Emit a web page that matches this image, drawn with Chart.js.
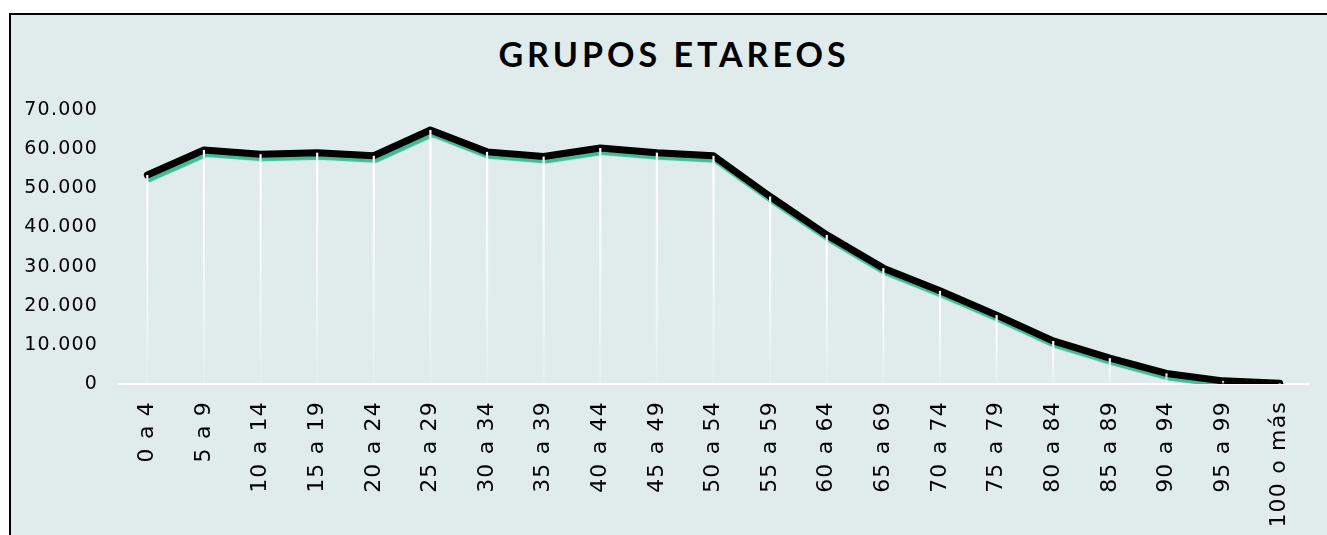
<!DOCTYPE html>
<html lang="es">
<head>
<meta charset="utf-8">
<title>Grupos etareos</title>
<script src="https://cdn.jsdelivr.net/npm/chart.js@4.4.1/dist/chart.umd.min.js"></script>
<style>
  html, body { margin: 0; padding: 0; background: #fff; overflow: hidden; }
  body { width: 1327px; height: 535px; position: relative; }
  .frame { position: absolute; left: 9px; top: 13px; width: 1400px; height: 600px;
           border-left: 2px solid #000; border-top: 2px solid #000; background: #e0ecec; }
  .ttl { position: absolute; left: 0; top: 37px; width: 1348px; text-align: center;
         font: 700 34px Lato, sans-serif; line-height: 34px; letter-spacing: 4px; color: #000; }
  #chart-grupos { position: absolute; left: 0; top: 0; }
</style>
</head>
<body>
<div class="frame"></div>
<div class="ttl">GRUPOS ETAREOS</div>
<canvas id="chart-grupos" width="1327" height="535"></canvas>
<script>
// ─── Data ─────────────────────────────────────────────────────────
const GRUPOS    = ['0 a 4','5 a 9','10 a 14','15 a 19','20 a 24','25 a 29','30 a 34','35 a 39','40 a 44','45 a 49',
                   '50 a 54','55 a 59','60 a 64','65 a 69','70 a 74','75 a 79','80 a 84','85 a 89','90 a 94','95 a 99','100 o más'];
const POBLACION = [53400, 59800, 58700, 59100, 58300, 64900, 59300, 58100, 60300, 59100,
                   58300, 47900, 38100, 29600, 23800, 17600, 11000, 6600, 2700, 800, 200];
const Y_MAX  = 70000;
const Y_STEP = 10000;

const TEAL = '#40bb94';
const fmt  = v => String(v).replace(/\B(?=(\d{3})+(?!\d))/g, '.');

// ─── Plugins ──────────────────────────────────────────────────────
// teal shadow under the black line
const lineShadow = {
  id: 'lineShadow',
  beforeDatasetDraw(chart) {
    const c = chart.ctx;
    c.save();
    c.shadowColor = TEAL; c.shadowOffsetX = 2; c.shadowOffsetY = 3.5; c.shadowBlur = 1;
  },
  afterDatasetDraw(chart) { chart.ctx.restore(); },
};

// axis labels are a bit letter-spaced in the original
const axisSpacing = {
  id: 'axisSpacing',
  beforeDraw(chart) { chart.ctx.letterSpacing = '1.2px'; },
  beforeDatasetsDraw(chart) { chart.ctx.letterSpacing = '0px'; },
};

// white fading drop lines from each point to the axis
const dropLines = {
  id: 'dropLines',
  afterDatasetsDraw(chart) {
    const c = chart.ctx, base = chart.scales.y.getPixelForValue(0);
    chart.getDatasetMeta(0).data.forEach(p => {
      const g = c.createLinearGradient(0, p.y, 0, base);
      g.addColorStop(0, 'rgba(255,255,255,1)');
      g.addColorStop(0.5, 'rgba(255,255,255,.6)');
      g.addColorStop(1, 'rgba(255,255,255,.15)');
      c.save();
      c.strokeStyle = g; c.lineWidth = 2.2;
      c.beginPath(); c.moveTo(p.x, p.y); c.lineTo(p.x, base); c.stroke();
      c.restore();
    });
  },
};

// ─── Chart ────────────────────────────────────────────────────────
new Chart(document.getElementById('chart-grupos').getContext('2d'), {
  type: 'line',
  data: {
    labels: GRUPOS,
    datasets: [{
      label: 'Población', data: POBLACION,
      borderColor: '#000', borderWidth: 7, borderCapStyle: 'round', borderJoinStyle: 'round',
      pointRadius: 0, pointHoverRadius: 0, tension: 0, fill: false,
    }],
  },
  options: {
    responsive: false, animation: false,
    layout: { padding: { top: 110, right: 19, bottom: 0, left: 0 } },
    plugins: { legend: { display: false }, title: { display: false }, tooltip: { enabled: false } },
    scales: {
      x: {
        offset: true,
        grid: { display: false, drawTicks: false, offset: true },
        border: { display: true, color: '#fff', width: 2 },
        ticks: { autoSkip: false, minRotation: 90, maxRotation: 90, padding: 17, color: '#000',
                 font: { family: 'DejaVu Sans', size: 22 } },
        afterFit: s => { s.height = 151; },
      },
      y: {
        min: 0, max: Y_MAX,
        grid: { display: false, drawTicks: false },
        border: { display: false },
        ticks: { stepSize: Y_STEP, padding: 21, color: '#000', callback: v => fmt(v),
                 font: { family: 'DejaVu Sans', size: 19 } },
        afterFit: s => { s.width = 119; },
      },
    },
  },
  plugins: [lineShadow, axisSpacing, dropLines],
});
</script>
</body>
</html>
